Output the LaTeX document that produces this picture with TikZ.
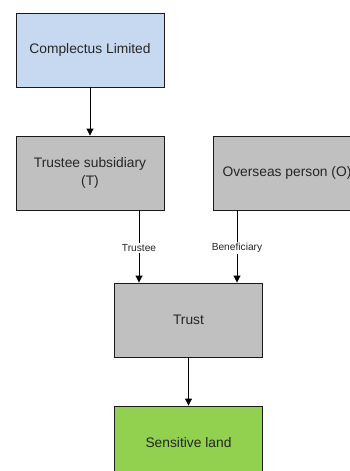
\documentclass[tikz,border=0pt]{standalone}
\usepackage{fontspec}
\setmainfont{Liberation Sans}
\usetikzlibrary{arrows.meta}
\definecolor{boxblue}{HTML}{C6D9F1}
\definecolor{boxgray}{HTML}{C0C0C0}
\definecolor{boxgreen}{HTML}{92D050}
\definecolor{edgecol}{HTML}{1A1A1A}
\begin{document}
\begin{tikzpicture}[x=1pt,y=-1pt,
  box/.style={draw=edgecol, line width=0.9pt, minimum width=148pt, minimum height=74pt,
    inner sep=0pt, font=\fontsize{13.8}{18.5}\selectfont, align=center, text=black!85},
  arr/.style={draw=black, line width=0.9pt, -{Triangle[length=7pt,width=7pt]}},
  lab/.style={fill=white, inner sep=1pt, font=\fontsize{10.2}{12}\selectfont, text=black!85}]
\useasboundingbox (0,0) rectangle (350,471);
\clip (0,0) rectangle (350,471);
\node[box, fill=boxblue] (cl) at (90,50) {Complectus Limited};
\node[box, fill=boxgray] (ts) at (90,173) {Trustee subsidiary\\(T)};
\node[box, fill=boxgray] (op) at (287,173) {Overseas person (O)};
\node[box, fill=boxgray] (tr) at (188.5,320) {Trust};
\node[box, fill=boxgreen] (sl) at (188.5,443) {Sensitive land};
\draw[arr] (cl) -- (ts);
\draw[arr] (ts.south -| 139,0) -- node[lab, pos=0.52] (lt) {Trustee} (tr.north -| 139,0);
\draw[arr] (op.south -| 237,0) -- node[lab, pos=0.52] (lb) {Beneficiary} (tr.north -| 237,0);
\draw[arr] (tr) -- (sl);
\end{tikzpicture}
\end{document}
